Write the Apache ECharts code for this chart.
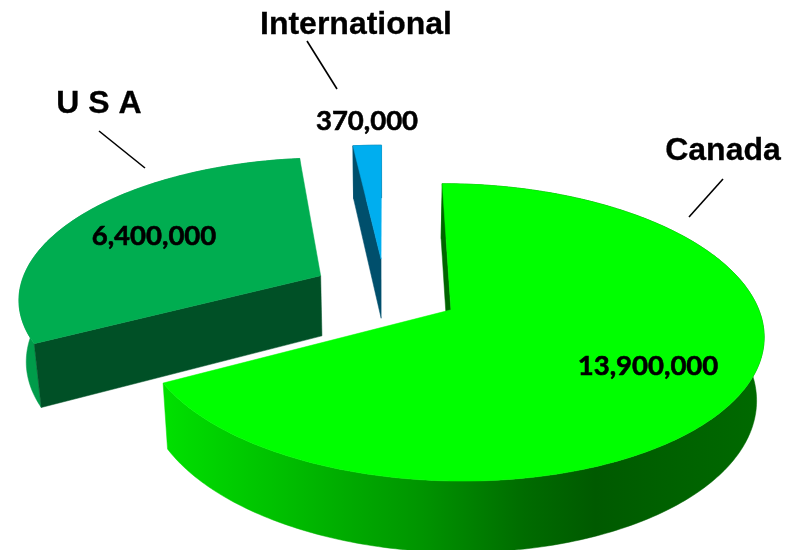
<!DOCTYPE html>
<html>
<head>
<meta charset="utf-8">
<style>html,body{margin:0;padding:0;background:#fff}#chart{width:792px;height:550px}</style>
<script src="https://cdn.jsdelivr.net/npm/echarts@6/dist/echarts.min.js"></script>
</head>
<body>
<div id="chart"></div>
<script>
// Passenger counts by market, clockwise from twelve o'clock.
const categories = ['Canada', 'U S A', 'International'];
const values = [13900000, 6400000, 370000];

// Colours per slice: top face, cut faces, rim.
const topColors = ['#00FF00', '#00AD50', '#00AEEF'];
const cutColors = ['#006400', '#005026', '#004F6C'];
const rimStops = [
  [[0, '#00E000'], [0.2, '#00BE00'], [0.42, '#009600'], [0.6, '#006C00'], [0.72, '#005A00'], [1, '#006A00']],
  [[0, '#009C4A'], [1, '#009C4A']],
  [[0, '#004F6C'], [1, '#004F6C']]
];

// Perspective camera for the tilted disc, and how far each slice is pulled out.
const cam = { x0: 385, yBase: -648, yScale: 6313, depth: 6.72, radius: 302, height: 61, taper: 0.98 };
const explode = [0.25, 0.245, 0.24];

const total = values.reduce((a, b) => a + b, 0);

function project(X, Z, lower) {
  const s = cam.depth / (cam.depth + Z);
  let x = cam.x0 + cam.radius * X * s;
  let y = cam.yBase + cam.yScale / (cam.depth + Z);
  if (lower) {
    x = cam.x0 + (x - cam.x0) * cam.taper;
    y += cam.height * Math.pow(s, 0.85);
  }
  return [x, y];
}

function renderSlice(params, api) {
  const i = params.dataIndex;
  const before = values.slice(0, i).reduce((a, b) => a + b, 0);
  const a0 = before / total * Math.PI * 2;
  const a1 = (before + api.value(0)) / total * Math.PI * 2;
  const mid = (a0 + a1) / 2;
  const cx = Math.sin(mid) * explode[i];
  const cz = Math.cos(mid) * explode[i];

  const arc = function (lower) {
    const pts = [];
    const n = Math.max(4, Math.ceil((a1 - a0) * 60));
    for (let k = 0; k <= n; k++) {
      const t = a0 + (a1 - a0) * k / n;
      pts.push(project(cx + Math.sin(t), cz + Math.cos(t), lower));
    }
    return pts;
  };
  const up = arc(false);
  const down = arc(true);
  const apexUp = project(cx, cz, false);
  const apexDown = project(cx, cz, true);
  const poly = function (points, fill) {
    return { type: 'polygon', shape: { points: points }, style: { fill: fill, stroke: fill, lineWidth: 0.5 } };
  };
  const rim = new echarts.graphic.LinearGradient(165, 0, 763, 0,
    rimStops[i].map(function (s) { return { offset: s[0], color: s[1] }; }), true);

  // Rim first, then whichever cut faces turn toward the viewer, then the lid.
  const children = [poly(up.concat(down.slice().reverse()), rim)];
  if (Math.sin(a1) > 1e-6) {
    children.push(poly([apexUp, up[up.length - 1], down[down.length - 1], apexDown], cutColors[i]));
  }
  if (Math.sin(a0) <= 1e-6) {
    children.push(poly([apexUp, up[0], down[0], apexDown], cutColors[i]));
  }
  children.push(poly([apexUp].concat(up), topColors[i]));
  return { type: 'group', children: children };
}

const nameFont = { fontFamily: '"Liberation Sans", Arial, sans-serif', fontWeight: 'bold', fontSize: 32, fill: '#000', stroke: '#000', lineWidth: 0.3 };
const valueFont = { fontFamily: 'Lato, sans-serif', fontWeight: 'bold', fontSize: 27.5, fill: '#000', stroke: '#000', lineWidth: 0.6 };
const nameAnchors = [[723, 151], [99, 104], [356, 25]];
const valueAnchors = [[648, 366], [154, 236], [367, 121]];
const leaders = [[[723, 179], [689, 217]], [[99, 131], [145, 168]], [[307, 41], [337, 89]]];

const texts = [];
categories.forEach(function (name, i) {
  texts.push({ type: 'text', x: nameAnchors[i][0], y: nameAnchors[i][1], z: 10,
    style: Object.assign({ text: name, align: 'center', verticalAlign: 'middle' }, nameFont) });
  texts.push({ type: 'text', x: valueAnchors[i][0], y: valueAnchors[i][1], z: 10,
    style: Object.assign({ text: values[i].toLocaleString('en-US'), align: 'center', verticalAlign: 'middle' }, valueFont) });
  texts.push({ type: 'line', z: 10,
    shape: { x1: leaders[i][0][0], y1: leaders[i][0][1], x2: leaders[i][1][0], y2: leaders[i][1][1] },
    style: { stroke: '#000', lineWidth: 1.6 } });
});

const chart = echarts.init(document.getElementById('chart'), null, { renderer: 'canvas' });
chart.setOption({
  animation: false,
  backgroundColor: '#fff',
  graphic: { elements: texts },
  series: [{
    type: 'custom',
    coordinateSystem: 'none',
    silent: true,
    renderItem: renderSlice,
    data: values.map(function (v) { return [v]; })
  }]
});
</script>
</body>
</html>
